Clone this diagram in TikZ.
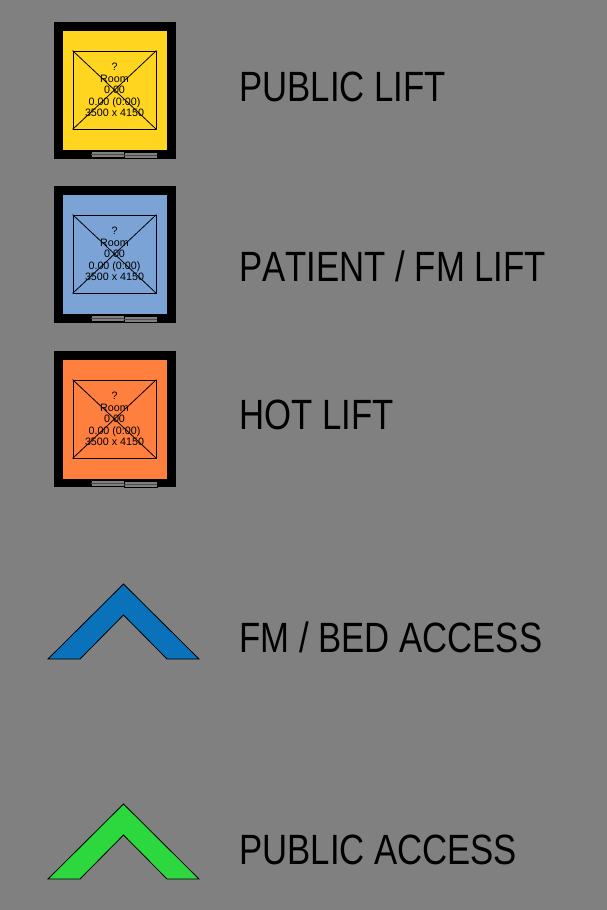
\documentclass[tikz,border=0pt]{standalone}
\usepackage{fontspec}
\usetikzlibrary{positioning}
\setmainfont{Liberation Sans}
\newfontfamily\keyfont[FakeStretch=0.82,RawFeature={-kern}]{Liberation Sans}
\definecolor{bggray}{HTML}{808080}
\definecolor{liftyellow}{HTML}{FFD520}
\definecolor{liftblue}{HTML}{7BA3D6}
\definecolor{liftorange}{HTML}{FF7F3F}
\definecolor{accessblue}{HTML}{0A71BB}
\definecolor{accessgreen}{HTML}{2DD83F}

\begin{document}
\begin{tikzpicture}[
  x=0.02cm,
  y=-0.02cm,
  shaft/.style={rectangle, fill=black, minimum width=2.44cm, minimum height=2.74cm, inner sep=0pt},
  car/.style={rectangle, minimum width=2.08cm, minimum height=2.4cm, inner sep=0pt},
  room/.style={rectangle, draw=black, line width=0.45pt, minimum width=1.66cm, minimum height=1.56cm, inner sep=0pt},
  roomtext/.style={align=center, font=\fontsize{6.1}{6.6}\selectfont, text=black, inner sep=0pt},
  roomline/.style={draw=black, line width=0.45pt},
  doorleaf/.style={rectangle, draw=black, fill=bggray, line width=0.3pt, minimum width=0.66cm, minimum height=0.12cm, inner sep=0pt},
  doorline/.style={draw=black!70, line width=0.35pt},
  keytext/.style={anchor=base west, inner sep=0pt, font=\keyfont\fontsize{24.1}{26}\selectfont, text=black},
  access/.style={draw=black, line width=0.45pt, line join=miter}
]
\fill[bggray] (0,0) rectangle (607,910);
\useasboundingbox (0,0) rectangle (607,910);

% public lift
\node[shaft] (shaftA) at (115,90.5) {};
\node[car, fill=liftyellow] (carA) at (115,90.5) {};
\node[room] (roomA) at (114.5,90) {};
\draw[roomline] (roomA.north west) -- (roomA.south east);
\draw[roomline] (roomA.south west) -- (roomA.north east);
\node[roomtext] (textA) at (114.5,90) {?\\Room\\0.00\\0.00 (0:00)\\3500 x 4150};
\node[doorleaf] (doorA1) at (107.5,154.5) {};
\node[doorleaf] (doorA2) at (140.5,155.5) {};
\draw[doorline] (doorA1.west) -- (doorA1.east);
\draw[doorline] (doorA2.west) -- (doorA2.east);
\node[keytext] (keyA) at (239,101) {PUBLIC LIFT};

% patient / fm lift
\node[shaft] (shaftB) at (115,254.5) {};
\node[car, fill=liftblue] (carB) at (115,254.5) {};
\node[room] (roomB) at (114.5,254) {};
\draw[roomline] (roomB.north west) -- (roomB.south east);
\draw[roomline] (roomB.south west) -- (roomB.north east);
\node[roomtext] (textB) at (114.5,254) {?\\Room\\0.00\\0.00 (0:00)\\3500 x 4150};
\node[doorleaf] (doorB1) at (107.5,318.5) {};
\node[doorleaf] (doorB2) at (140.5,319.5) {};
\draw[doorline] (doorB1.west) -- (doorB1.east);
\draw[doorline] (doorB2.west) -- (doorB2.east);
\node[keytext] (keyB) at (239,281.5) {PATIENT / FM LIFT};

% hot lift
\node[shaft] (shaftC) at (115,419) {};
\node[car, fill=liftorange] (carC) at (115,419.5) {};
\node[room] (roomC) at (114.5,419) {};
\draw[roomline] (roomC.north west) -- (roomC.south east);
\draw[roomline] (roomC.south west) -- (roomC.north east);
\node[roomtext] (textC) at (114.5,419) {?\\Room\\0.00\\0.00 (0:00)\\3500 x 4150};
\node[doorleaf] (doorC1) at (107.5,483) {};
\node[doorleaf] (doorC2) at (140.5,484) {};
\draw[doorline] (doorC1.west) -- (doorC1.east);
\draw[doorline] (doorC2.west) -- (doorC2.east);
\node[keytext] (keyC) at (239,429.5) {HOT LIFT};

% access chevrons
\draw[access, fill=accessblue] (123.5,584) -- (199,659) -- (167,659) -- (123.5,615) -- (80,659) -- (48,659) -- cycle;
\node[keytext] (keyD) at (239,652.5) {FM / BED ACCESS};
\draw[access, fill=accessgreen] (123.5,804) -- (199,879) -- (167,879) -- (123.5,835) -- (80,879) -- (48,879) -- cycle;
\node[keytext] (keyE) at (239,864.5) {PUBLIC ACCESS};
\end{tikzpicture}
\end{document}
